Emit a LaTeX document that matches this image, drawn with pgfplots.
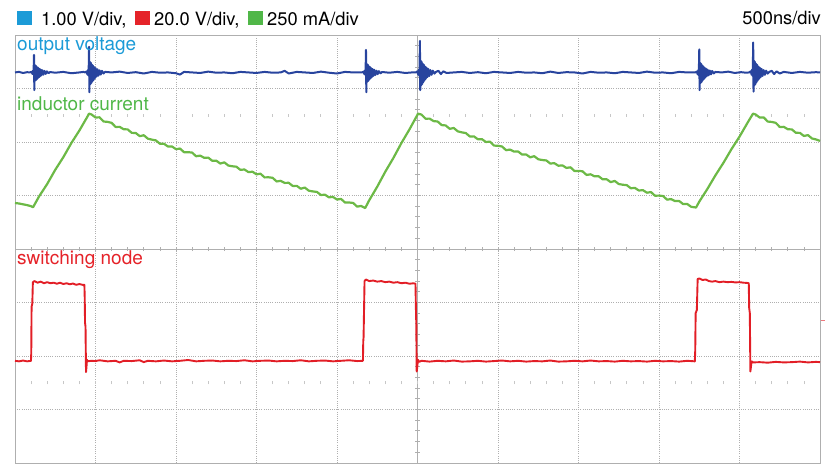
\documentclass[border=0pt]{standalone}
\usepackage{pgfplots}
\pgfplotsset{compat=1.18}
\usepackage{fontspec}
\setmainfont{TeX Gyre Heros}
\definecolor{labblue}{RGB}{28,155,215}
\definecolor{labred}{RGB}{229,35,41}
\definecolor{labgreen}{RGB}{80,183,72}
\definecolor{trblue}{RGB}{40,68,158}
\definecolor{trgreen}{RGB}{108,185,70}
\definecolor{trred}{RGB}{226,30,38}
\definecolor{gridc}{RGB}{175,175,175}
\begin{document}
\begin{tikzpicture}[x=1bp,y=1bp]
\useasboundingbox (0,0) rectangle (836,464);
% header
\fill[labblue] (17,438.5) rectangle (32,452.5);
\node[anchor=base west,inner sep=0,font=\fontsize{18.3bp}{21bp}\selectfont] at (41,438) {1.00 V/div,};
\fill[labred] (135,438.5) rectangle (150,452.5);
\node[anchor=base west,inner sep=0,font=\fontsize{18.3bp}{21bp}\selectfont] at (154,438) {20.0 V/div,};
\fill[labgreen] (248,438.5) rectangle (263,452.5);
\node[anchor=base west,inner sep=0,font=\fontsize{18.3bp}{21bp}\selectfont] at (267,438) {250 mA/div};
\node[anchor=base east,inner sep=0,font=\fontsize{18.3bp}{21bp}\selectfont] at (821,439) {500ns/div};
\begin{axis}[
  at={(15bp,1bp)}, anchor=south west,
  width=805bp, height=428bp, scale only axis,
  xmin=0, xmax=10, ymin=0, ymax=8,
  clip=false,
  axis line style={draw=gridc, line width=0.9bp},
  xtick={1,2,3,4,6,7,8,9}, ytick={1,2,3,5,6,7},
  xticklabels={}, yticklabels={},
  major tick length=0pt,
  xmajorgrids, ymajorgrids,
  major grid style={draw=gridc, line width=0.8bp, dash pattern=on 0.8bp off 1.4bp},
]
% center lines with minor ticks
\draw[gridc, line width=0.9bp] (axis cs:5,0) -- (axis cs:5,8);
\draw[gridc, line width=0.9bp] (axis cs:0,4) -- (axis cs:10,4);
\pgfplotsinvokeforeach{1,...,49}{
  \draw[gridc, line width=0.8bp] (axis cs:{#1/5},3.96) -- (axis cs:{#1/5},4.04);
  \draw[gridc!70, line width=0.8bp] (axis cs:{#1/5},6.47) -- (axis cs:{#1/5},6.53);
  \draw[gridc!70, line width=0.8bp] (axis cs:{#1/5},1.47) -- (axis cs:{#1/5},1.53);
}
\pgfplotsinvokeforeach{1,...,39}{
  \draw[gridc, line width=0.8bp] (axis cs:4.975,{#1/5}) -- (axis cs:5.025,{#1/5});
}
% output voltage (blue)
\addplot[trblue, line width=2bp, line join=round] coordinates {
(0,7.30)(0.05,7.31)(0.1,7.29)(0.15,7.305)
(0.186,7.30)(0.206,7.314)(0.216,7.272)(0.224,7.335)(0.230,7.258)(0.236,7.63)(0.240,6.97)
(0.246,7.44)(0.252,7.146)(0.258,7.426)(0.264,7.16)(0.270,7.405)(0.276,7.181)(0.284,7.391)
(0.292,7.202)(0.300,7.37)(0.308,7.223)(0.318,7.356)(0.328,7.244)(0.340,7.342)(0.352,7.258)
(0.366,7.328)(0.381,7.272)(0.396,7.321)(0.416,7.286)(0.436,7.307)
(0.5,7.295)(0.6,7.31)(0.7,7.285)(0.8,7.30)(0.85,7.31)
(0.87,7.30)(0.89,7.32)(0.90,7.26)(0.908,7.35)(0.914,7.24)(0.92,7.78)(0.924,6.93)
(0.930,7.50)(0.936,7.08)(0.942,7.48)(0.948,7.10)(0.954,7.45)(0.960,7.13)(0.968,7.43)
(0.976,7.16)(0.984,7.40)(0.992,7.19)(1.002,7.38)(1.012,7.22)(1.024,7.36)(1.036,7.24)
(1.05,7.34)(1.065,7.26)(1.08,7.33)(1.10,7.28)(1.12,7.31)
(1.2,7.30)(1.3,7.315)(1.4,7.29)(1.5,7.305)(1.6,7.28)(1.7,7.31)(1.8,7.295)(1.9,7.30)
(2.0,7.285)(2.05,7.26)(2.1,7.31)(2.2,7.30)(2.3,7.29)(2.4,7.315)(2.5,7.295)(2.6,7.30)
(2.7,7.285)(2.8,7.31)(2.9,7.30)(3.0,7.29)(3.1,7.31)(3.2,7.295)(3.3,7.30)(3.35,7.33)
(3.4,7.28)(3.5,7.31)(3.6,7.30)(3.7,7.29)(3.8,7.315)(3.9,7.295)(4.0,7.28)(4.1,7.31)
(4.2,7.30)(4.27,7.30)
(4.31,7.30)(4.33,7.316)(4.34,7.268)(4.348,7.34)(4.354,7.252)(4.36,7.72)(4.364,6.93)
(4.370,7.46)(4.376,7.124)(4.382,7.444)(4.388,7.14)(4.394,7.42)(4.400,7.164)(4.408,7.404)
(4.416,7.188)(4.424,7.38)(4.432,7.212)(4.442,7.364)(4.452,7.236)(4.464,7.348)(4.476,7.252)
(4.49,7.332)(4.505,7.268)(4.52,7.324)(4.54,7.284)(4.56,7.308)
(4.65,7.295)(4.75,7.31)(4.85,7.29)(4.93,7.30)
(4.98,7.30)(5.00,7.322)(5.01,7.256)(5.018,7.355)(5.024,7.234)(5.03,7.89)(5.034,6.97)
(5.040,7.52)(5.046,7.058)(5.052,7.498)(5.058,7.08)(5.064,7.465)(5.070,7.113)(5.078,7.443)
(5.086,7.146)(5.094,7.41)(5.102,7.179)(5.112,7.388)(5.122,7.212)(5.134,7.366)(5.146,7.234)
(5.16,7.344)(5.175,7.256)(5.19,7.333)(5.21,7.278)(5.23,7.311)
(5.26,7.33)(5.29,7.27)(5.32,7.32)(5.36,7.29)
(5.45,7.30)(5.55,7.31)(5.65,7.29)(5.75,7.305)(5.85,7.285)(5.95,7.31)(6.05,7.30)(6.15,7.29)
(6.25,7.31)(6.35,7.295)(6.45,7.30)(6.55,7.285)(6.65,7.315)(6.75,7.29)(6.85,7.305)(6.95,7.30)
(7.05,7.28)(7.15,7.31)(7.25,7.295)(7.35,7.30)(7.45,7.285)(7.55,7.31)(7.65,7.30)(7.75,7.29)
(7.85,7.315)(7.95,7.295)(8.05,7.30)(8.15,7.285)(8.25,7.31)(8.35,7.30)(8.45,7.30)
(8.47,7.318)(8.48,7.264)(8.488,7.345)(8.494,7.246)(8.50,7.73)(8.504,6.97)
(8.510,7.48)(8.516,7.102)(8.522,7.462)(8.528,7.12)(8.534,7.435)(8.540,7.147)(8.548,7.417)
(8.556,7.174)(8.564,7.39)(8.572,7.201)(8.582,7.372)(8.592,7.228)(8.604,7.354)(8.616,7.246)
(8.63,7.336)(8.645,7.264)(8.66,7.327)(8.68,7.282)(8.70,7.309)
(8.78,7.30)(8.86,7.315)(8.94,7.29)(9.02,7.305)(9.08,7.295)(9.12,7.30)
(9.14,7.322)(9.15,7.256)(9.158,7.355)(9.164,7.234)(9.17,7.86)(9.174,6.94)
(9.180,7.52)(9.186,7.058)(9.192,7.498)(9.198,7.08)(9.204,7.465)(9.210,7.113)(9.218,7.443)
(9.226,7.146)(9.234,7.41)(9.242,7.179)(9.252,7.388)(9.262,7.212)(9.274,7.366)(9.286,7.234)
(9.30,7.344)(9.315,7.256)(9.33,7.333)(9.35,7.278)(9.37,7.311)
(9.40,7.33)(9.43,7.27)(9.46,7.32)(9.50,7.28)(9.55,7.31)
(9.65,7.29)(9.75,7.31)(9.85,7.295)(9.95,7.305)(10,7.30)
};
% inductor current (green)
\addplot[trgreen, line width=2.2bp, line join=round] coordinates {
(0,4.86)(0.05,4.85)(0.1,4.835)(0.15,4.82)(0.2,4.80)(0.224,4.78)
(0.3,4.985)(0.4,5.215)(0.5,5.48)(0.6,5.715)(0.7,5.98)(0.8,6.215)(0.9,6.475)(0.919,6.53)
(0.95,6.515)(1.00,6.458)(1.05,6.461)(1.10,6.383)(1.15,6.376)(1.20,6.358)(1.25,6.281)
(1.30,6.283)(1.35,6.238)(1.40,6.235)(1.45,6.171)(1.50,6.168)(1.55,6.109)(1.60,6.126)
(1.65,6.062)(1.70,6.044)(1.75,6.030)(1.80,5.967)(1.85,5.968)(1.90,5.915)(1.95,5.916)
(2.00,5.866)(2.05,5.877)(2.10,5.809)(2.15,5.810)(2.20,5.802)(2.25,5.733)(2.30,5.745)
(2.35,5.705)(2.40,5.708)(2.45,5.649)(2.50,5.651)(2.55,5.597)(2.60,5.619)(2.65,5.560)
(2.70,5.546)(2.75,5.538)(2.80,5.479)(2.85,5.486)(2.90,5.437)(2.95,5.444)(3.00,5.395)
(3.05,5.407)(3.10,5.338)(3.15,5.340)(3.20,5.331)(3.25,5.262)(3.30,5.274)(3.35,5.235)
(3.40,5.237)(3.45,5.178)(3.50,5.180)(3.55,5.126)(3.60,5.148)(3.65,5.089)(3.70,5.076)
(3.75,5.067)(3.80,5.009)(3.85,5.015)(3.90,4.966)(3.95,4.973)(4.00,4.924)(4.05,4.936)
(4.10,4.868)(4.15,4.869)(4.20,4.861)(4.25,4.792)(4.30,4.804)(4.35,4.765)
(4.4,4.91)(4.5,5.165)(4.6,5.445)(4.7,5.70)(4.8,5.98)(4.9,6.235)(5.0,6.51)(5.006,6.53)
(5.05,6.512)(5.10,6.435)(5.15,6.437)(5.20,6.390)(5.25,6.383)(5.30,6.316)(5.35,6.309)
(5.40,6.246)(5.45,6.262)(5.50,6.199)(5.55,6.180)(5.60,6.167)(5.65,6.103)(5.70,6.105)
(5.75,6.051)(5.80,6.053)(5.85,6.000)(5.90,6.006)(5.95,5.933)(6.00,5.929)(6.05,5.916)
(6.10,5.847)(6.15,5.858)(6.20,5.820)(6.25,5.822)(6.30,5.764)(6.35,5.766)(6.40,5.713)
(6.45,5.735)(6.50,5.677)(6.55,5.663)(6.60,5.655)(6.65,5.597)(6.70,5.604)(6.75,5.556)
(6.80,5.563)(6.85,5.515)(6.90,5.527)(6.95,5.458)(7.00,5.460)(7.05,5.452)(7.10,5.384)
(7.15,5.396)(7.20,5.358)(7.25,5.360)(7.30,5.302)(7.35,5.303)(7.40,5.250)(7.45,5.272)
(7.50,5.214)(7.55,5.201)(7.60,5.193)(7.65,5.135)(7.70,5.142)(7.75,5.093)(7.80,5.100)
(7.85,5.052)(7.90,5.064)(7.95,4.996)(8.00,4.998)(8.05,4.990)(8.10,4.922)(8.15,4.933)
(8.20,4.895)(8.25,4.897)(8.30,4.839)(8.35,4.841)(8.40,4.788)(8.46,4.775)
(8.5,4.885)(8.6,5.12)(8.7,5.375)(8.8,5.61)(8.9,5.866)(9.0,6.10)(9.1,6.36)(9.168,6.53)
(9.20,6.514)(9.25,6.457)(9.30,6.46)(9.35,6.382)(9.40,6.375)(9.45,6.358)(9.50,6.28)
(9.55,6.283)(9.60,6.238)(9.65,6.235)(9.70,6.172)(9.75,6.17)(9.80,6.112)(9.85,6.129)
(9.90,6.066)(9.95,6.048)(10.0,6.02)
};
% switching node (red)
\addplot[trred, line width=1.9bp, line join=round] coordinates {
(0,1.91)(0.05,1.90)(0.1,1.915)(0.15,1.90)(0.198,1.91)(0.202,2.05)(0.206,2.92)(0.215,2.98)
(0.222,3.38)(0.24,3.40)(0.28,3.37)(0.32,3.39)(0.36,3.36)(0.40,3.38)(0.44,3.36)(0.48,3.37)
(0.52,3.35)(0.56,3.37)(0.60,3.345)(0.64,3.36)(0.68,3.34)(0.72,3.355)(0.76,3.33)(0.80,3.345)
(0.84,3.33)(0.862,3.33)(0.866,3.10)(0.870,2.62)(0.876,2.55)(0.882,1.70)(0.888,1.80)
(0.894,1.93)(0.90,1.90)(0.95,1.91)(1.0,1.905)
(1.05,1.92)(1.15,1.90)(1.25,1.91)(1.3,1.88)(1.35,1.91)(1.45,1.905)(1.55,1.92)(1.6,1.885)
(1.65,1.91)(1.75,1.90)(1.85,1.915)(1.95,1.90)(2.05,1.91)(2.15,1.925)(2.25,1.90)(2.35,1.91)
(2.45,1.915)(2.55,1.90)(2.65,1.91)(2.75,1.905)(2.85,1.92)(2.95,1.90)(3.05,1.91)(3.15,1.915)
(3.25,1.90)(3.35,1.91)(3.45,1.905)(3.55,1.92)(3.65,1.90)(3.75,1.91)(3.85,1.915)(3.95,1.90)
(4.05,1.91)(4.15,1.92)(4.25,1.905)(4.322,1.91)
(4.326,2.27)(4.33,2.35)(4.342,3.40)(4.36,3.43)(4.40,3.40)(4.45,3.41)(4.50,3.39)(4.55,3.40)
(4.60,3.38)(4.65,3.39)(4.70,3.37)(4.75,3.38)(4.80,3.36)(4.85,3.37)(4.90,3.35)(4.95,3.36)
(4.975,3.35)(4.98,2.90)(4.985,2.60)(4.99,1.71)(4.996,1.78)(5.005,1.93)(5.02,1.89)(5.05,1.91)
(5.15,1.895)(5.25,1.91)(5.35,1.90)(5.45,1.915)(5.55,1.895)(5.65,1.90)(5.75,1.91)(5.85,1.895)
(5.95,1.905)(6.05,1.915)(6.15,1.90)(6.25,1.91)(6.35,1.895)(6.45,1.905)(6.55,1.90)(6.65,1.915)
(6.75,1.895)(6.85,1.90)(6.95,1.91)(7.05,1.90)(7.15,1.915)(7.25,1.90)(7.35,1.905)(7.45,1.895)
(7.55,1.91)(7.65,1.90)(7.75,1.905)(7.85,1.895)(7.95,1.91)(8.05,1.90)(8.15,1.905)(8.25,1.895)
(8.35,1.91)(8.445,1.90)
(8.45,2.10)(8.455,2.80)(8.47,2.86)(8.48,3.44)(8.50,3.45)(8.54,3.42)(8.58,3.43)(8.62,3.40)
(8.66,3.39)(8.70,3.40)(8.75,3.38)(8.80,3.39)(8.85,3.38)(8.90,3.385)(8.95,3.375)(9.00,3.38)
(9.05,3.37)(9.10,3.365)(9.115,3.36)(9.12,2.90)(9.128,2.80)(9.135,1.71)(9.142,1.80)(9.15,1.90)
(9.17,1.88)(9.25,1.885)(9.35,1.875)(9.45,1.89)(9.55,1.88)(9.65,1.885)(9.75,1.895)(9.85,1.88)
(9.95,1.89)(10,1.885)
};
% channel offset marker
\addplot[trred!60, line width=1.2bp] coordinates {(10.01,2.66)(10.06,2.66)};
% channel labels
\node[anchor=base west,inner sep=0,font=\fontsize{19bp}{22bp}\selectfont,text=labblue] at (axis cs:0.025,7.701) {output voltage};
\node[anchor=base west,inner sep=0,font=\fontsize{19bp}{22bp}\selectfont,text=labgreen] at (axis cs:0.025,6.58) {inductor current};
\node[anchor=base west,inner sep=0,font=\fontsize{19bp}{22bp}\selectfont,text=labred] at (axis cs:0.025,3.718) {switching node};
\end{axis}
\end{tikzpicture}
\end{document}
